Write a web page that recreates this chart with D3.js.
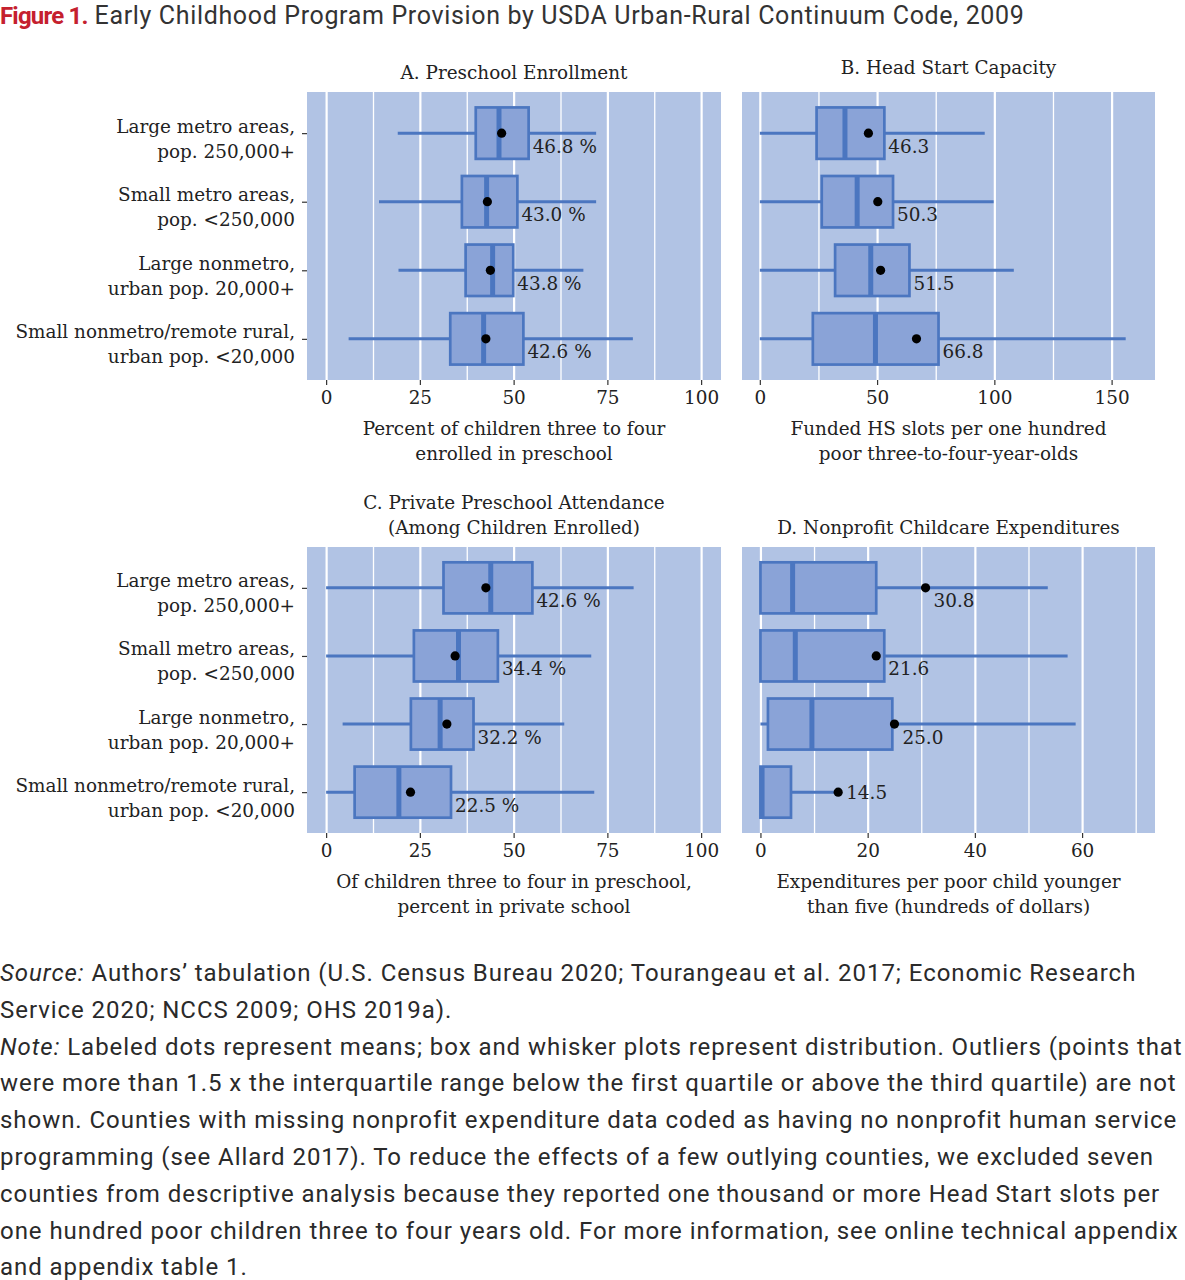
<!DOCTYPE html>
<html>
<head>
<meta charset="utf-8">
<script src="https://cdn.jsdelivr.net/npm/d3@7"></script>
<style>
  body { margin: 0; background: #fff; }
  svg text { fill: #222; }
</style>
</head>
<body>
<div id="chart"></div>
<script>

// categories, top to bottom
var categories = [
  ["Large metro areas,", "pop. 250,000+"],
  ["Small metro areas,", "pop. <250,000"],
  ["Large nonmetro,", "urban pop. 20,000+"],
  ["Small nonmetro/remote rural,", "urban pop. <20,000"]
];

// [lower whisker, Q1, median, Q3, upper whisker]
var enrollStats = [[19.1, 39.9, 46.1, 54.0, 72.0], [14.1, 36.2, 42.8, 51.0, 72.0], [19.3, 37.2, 44.4, 49.9, 68.6], [6.0, 33.1, 42.0, 52.6, 81.8]];
var enrollMeans = [46.8, 43.0, 43.8, 42.6];

var headStartStats = [[0, 24.2, 36.3, 53.1, 95.9], [0, 26.4, 41.5, 56.8, 99.7], [0, 32.1, 47.3, 63.8, 108.3], [0, 22.6, 49.3, 76.2, 156.0]];
var headStartMeans = [46.3, 50.3, 51.5, 66.8];

var privateStats = [[0, 31.3, 43.9, 55.0, 82.0], [0, 23.4, 35.3, 45.8, 70.7], [4.4, 22.6, 30.4, 39.3, 63.5], [0, 7.6, 19.4, 33.3, 71.5]];
var privateMeans = [42.6, 34.4, 32.2, 22.5];

var nonprofitStats = [[0, 0, 6.0, 21.6, 53.6], [0, 0, 6.5, 23.1, 57.3], [0, 1.4, 9.6, 24.6, 58.8], [0, 0, 0.3, 5.7, 14.0]];
var nonprofitMeans = [30.8, 21.6, 25.0, 14.5];

var pctTicks = [0, 25, 50, 75, 100];
var pctMinor = [12.5, 37.5, 62.5, 87.5];
var hsTicks = [0, 50, 100, 150];
var hsMinor = [25, 75, 125];
var npTicks = [0, 20, 40, 60];
var npMinor = [10, 30, 50, 70];

var sourceLines = [
  [["Source:", true], [" Authors\u2019 tabulation (U.S. Census Bureau 2020; Tourangeau et al. 2017; Economic Research", false]],
  [["Service 2020; NCCS 2009; OHS 2019a).", false]],
  [["Note:", true], [" Labeled dots represent means; box and whisker plots represent distribution. Outliers (points that", false]],
  [["were more than 1.5 x the interquartile range below the first quartile or above the third quartile) are not", false]],
  [["shown. Counties with missing nonprofit expenditure data coded as having no nonprofit human service", false]],
  [["programming (see Allard 2017). To reduce the effects of a few outlying counties, we excluded seven", false]],
  [["counties from descriptive analysis because they reported one thousand or more Head Start slots per", false]],
  [["one hundred poor children three to four years old. For more information, see online technical appendix", false]],
  [["and appendix table 1.", false]]
];

var W = 1185, H = 1280;
var serif = "'DejaVu Serif', 'Liberation Serif', serif";
var sans = "Roboto, 'Noto Sans', sans-serif";
var fs = 18.4;

var bgColor = "#b1c3e4", boxFill = "#8aa3d7", boxStroke = "#4b76c0";

var svg = d3.select("#chart").append("svg")
  .attr("width", W)
  .attr("height", H);

// figure title
var title = svg.append("text")
  .attr("x", 0)
  .attr("y", 23.5)
  .attr("font-family", sans);
title.append("tspan")
  .attr("font-weight", "bold")
  .attr("font-size", 24)
  .attr("letter-spacing", -0.8)
  .style("fill", "#c5202e")
  .text("Figure 1.");
title.append("tspan")
  .attr("font-size", 25)
  .attr("letter-spacing", 0.65)
  .style("fill", "#333")
  .text(" Early Childhood Program Provision by USDA Urban-Rural Continuum Code, 2009");

var panels = [
  {left: 307, top: 92, width: 414, height: 288, domain: [-5.1, 105.3], ticks: pctTicks, minor: pctMinor,
   stats: enrollStats, means: enrollMeans, suffix: " %", yLabels: true,
   title: ["A. Preschool Enrollment"], titleY: 73,
   xTitle: ["Percent of children three to four", "enrolled in preschool"]},
  {left: 742, top: 92, width: 413, height: 288, domain: [-7.6, 168.5], ticks: hsTicks, minor: hsMinor,
   stats: headStartStats, means: headStartMeans, suffix: "", yLabels: false,
   title: ["B. Head Start Capacity"], titleY: 68,
   xTitle: ["Funded HS slots per one hundred", "poor three-to-four-year-olds"]},
  {left: 307, top: 547, width: 414, height: 286, domain: [-5.1, 105.3], ticks: pctTicks, minor: pctMinor,
   stats: privateStats, means: privateMeans, suffix: " %", yLabels: true,
   title: ["C. Private Preschool Attendance", "(Among Children Enrolled)"], titleY: 503,
   xTitle: ["Of children three to four in preschool,", "percent in private school"]},
  {left: 742, top: 547, width: 413, height: 286, domain: [-3.44, 73.6], ticks: npTicks, minor: npMinor,
   stats: nonprofitStats, means: nonprofitMeans, suffix: "", yLabels: false,
   title: ["D. Nonprofit Childcare Expenditures"], titleY: 528,
   xTitle: ["Expenditures per poor child younger", "than five (hundreds of dollars)"]}
];

var fmt = d3.format(".1f");

panels.forEach(function(p) {
  var g = svg.append("g")
    .attr("transform", `translate(${p.left}, ${p.top})`);

  var x = d3.scaleLinear().domain(p.domain).range([0, p.width]);
  var y = d3.scalePoint().domain(d3.range(categories.length)).range([0, p.height]).padding(0.6);
  var boxH = y.step() * 0.75;

  g.append("rect")
    .attr("width", p.width)
    .attr("height", p.height)
    .attr("fill", bgColor);

  // minor and major vertical grid lines
  g.append("g")
    .call(d3.axisBottom(x).tickValues(p.minor).tickSize(p.height).tickFormat(""))
    .call(a => a.select(".domain").remove())
    .selectAll("line").attr("stroke", "#fff").attr("stroke-width", 1.3);
  g.append("g")
    .call(d3.axisBottom(x).tickValues(p.ticks).tickSize(p.height).tickFormat(""))
    .call(a => a.select(".domain").remove())
    .selectAll("line").attr("stroke", "#fff").attr("stroke-width", 2.2);

  // x axis
  var xAxis = g.append("g")
    .attr("transform", `translate(0, ${p.height})`)
    .call(d3.axisBottom(x).tickValues(p.ticks).tickSize(5).tickPadding(6))
    .call(a => a.select(".domain").remove());
  xAxis.selectAll("line").attr("stroke", "#333").attr("stroke-width", 1.2);
  xAxis.selectAll("text").attr("font-family", serif).attr("font-size", fs).style("fill", "#222");

  // y axis
  if (p.yLabels) {
    var yAxis = g.append("g")
      .call(d3.axisLeft(y).tickSize(5).tickFormat(""))
      .call(a => a.select(".domain").remove());
    yAxis.selectAll("line").attr("stroke", "#333").attr("stroke-width", 1.2);
    categories.forEach(function(c, i) {
      var t = g.append("text")
        .attr("text-anchor", "end")
        .attr("font-family", serif)
        .attr("font-size", fs)
        .attr("transform", `translate(-12, ${y(i) + 5})`);
      c.forEach(function(line, j) {
        t.append("tspan")
          .attr("x", 0)
          .attr("y", (j - 0.5) * 25 + 7)
          .text(line);
      });
    });
  }

  var rows = g.selectAll(".row")
    .data(p.stats)
    .enter().append("g")
    .attr("class", "row");

  // whiskers
  rows.append("line")
    .attr("x1", d => x(d[0]))
    .attr("x2", d => x(d[4]))
    .attr("y1", (d, i) => y(i))
    .attr("y2", (d, i) => y(i))
    .attr("stroke", boxStroke)
    .attr("stroke-width", 3);

  // boxes
  rows.append("rect")
    .attr("x", d => x(d[1]))
    .attr("width", d => x(d[3]) - x(d[1]))
    .attr("y", (d, i) => y(i) - boxH / 2)
    .attr("height", boxH)
    .attr("fill", boxFill)
    .attr("stroke", boxStroke)
    .attr("stroke-width", 2.7);

  // medians
  rows.append("line")
    .attr("x1", d => x(d[2]))
    .attr("x2", d => x(d[2]))
    .attr("y1", (d, i) => y(i) - boxH / 2)
    .attr("y2", (d, i) => y(i) + boxH / 2)
    .attr("stroke", boxStroke)
    .attr("stroke-width", 5);

  // means
  rows.append("circle")
    .attr("cx", (d, i) => x(p.means[i]))
    .attr("cy", (d, i) => y(i))
    .attr("r", 4.6)
    .attr("fill", "#000");

  rows.append("text")
    .attr("x", (d, i) => Math.max(x(p.means[i]) + 8, x(d[3]) + 4))
    .attr("y", (d, i) => y(i) + (d[4] > p.means[i] + 1 ? 19.5 : 7))
    .attr("font-family", serif)
    .attr("font-size", fs)
    .text((d, i) => fmt(p.means[i]) + p.suffix);

  // panel title
  p.title.forEach(function(line, j) {
    svg.append("text")
      .attr("x", p.left + p.width / 2)
      .attr("y", p.titleY + j * 25 + 6)
      .attr("text-anchor", "middle")
      .attr("font-family", serif)
      .attr("font-size", fs)
      .text(line);
  });

  // axis title
  p.xTitle.forEach(function(line, j) {
    svg.append("text")
      .attr("x", p.left + p.width / 2)
      .attr("y", p.top + p.height + 55 + j * 25)
      .attr("text-anchor", "middle")
      .attr("font-family", serif)
      .attr("font-size", fs)
      .text(line);
  });
});

// source and note
sourceLines.forEach(function(parts, i) {
  var t = svg.append("text")
    .attr("x", 0)
    .attr("y", 981 + i * 36.8)
    .attr("font-family", sans)
    .attr("font-size", 24)
    .attr("letter-spacing", 0.95)
    .style("fill", "#2a2a2a");
  parts.forEach(function(part) {
    t.append("tspan")
      .attr("font-style", part[1] ? "italic" : null)
      .text(part[0]);
  });
});

</script>
</body>
</html>
